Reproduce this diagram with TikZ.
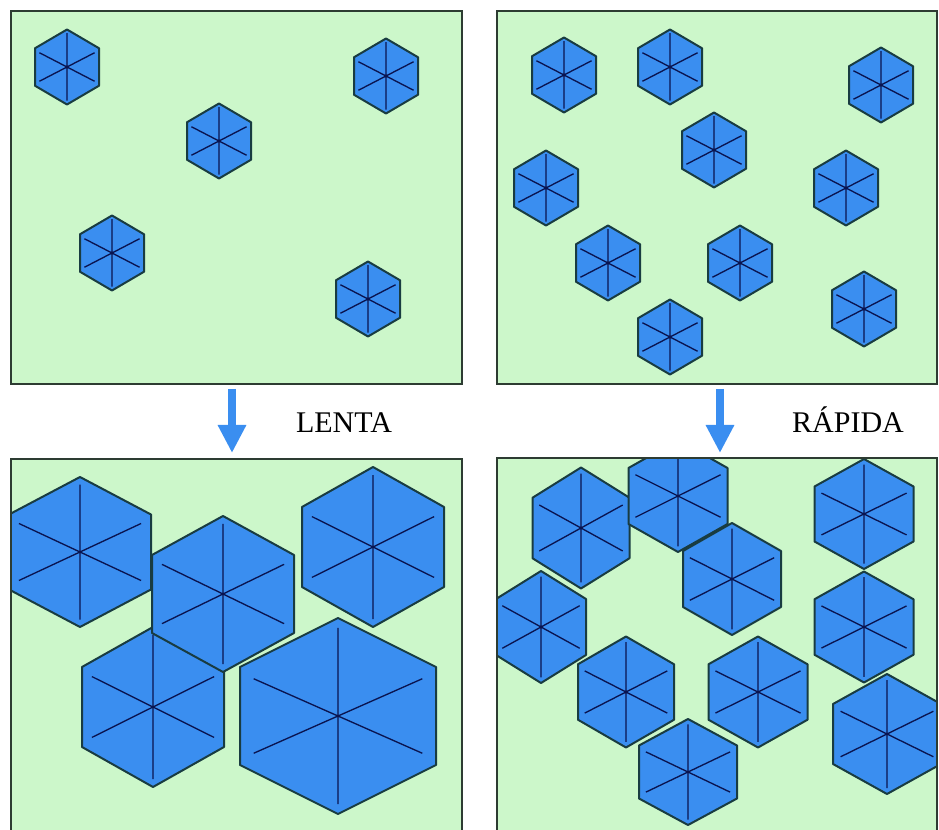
\documentclass[tikz,border=0pt]{standalone}
\usepackage{fontspec}
\setmainfont{Liberation Serif}
\usepackage{tikz}
\usetikzlibrary{arrows.meta}

\definecolor{fondo}{RGB}{204,247,202}
\definecolor{borde}{RGB}{45,60,50}
\definecolor{azul}{RGB}{58,142,240}
\definecolor{contorno}{RGB}{25,60,65}
\definecolor{ejes}{RGB}{10,20,80}

\tikzset{
  panel/.style={draw=borde,line width=1.6pt,fill=fondo},
  hexa/.style={fill=azul,draw=contorno,line width=1.5pt,line join=round},
  eje/.style={ejes,line width=1pt},
  flecha/.style={azul,line width=6pt,-{Triangle[length=21pt,width=20pt]}},
  rotulo/.style={font=\fontsize{22.5}{26}\selectfont,anchor=base}
}

% grain: center x, center y, half width, half height
\newcommand\grano[4]{%
  \begin{scope}[shift={(#1,#2)},xscale=#3,yscale=#4]
    \filldraw[hexa] (0,-1) -- (1,-0.5) -- (1,0.5) -- (0,1) -- (-1,0.5) -- (-1,-0.5) -- cycle;
    \draw[eje] (0,-0.9) -- (0,0.9) (-0.86,-0.38) -- (0.86,0.38) (-0.86,0.38) -- (0.86,-0.38);
  \end{scope}}

\begin{document}
\begin{tikzpicture}[x=0.75pt,y=-0.75pt]

\useasboundingbox (0,0) rectangle (939,830);

% upper left: few nuclei
\fill[fondo] (11,11) rectangle (462,384);
\begin{scope}
  \clip (11,11) rectangle (462,384);
  \grano{67}{67}{32}{37.5}
  \grano{219}{141}{32}{37.5}
  \grano{386}{76}{32}{37.5}
  \grano{112}{253}{32}{37.5}
  \grano{368}{299}{32}{37.5}
\end{scope}
\draw[panel,fill=none] (11,11) rectangle (462,384);

% upper right: many nuclei
\fill[fondo] (497,11) rectangle (937,384);
\begin{scope}
  \clip (497,11) rectangle (937,384);
  \grano{564}{75}{32}{37.5}
  \grano{670}{67}{32}{37.5}
  \grano{881}{85}{32}{37.5}
  \grano{714}{150}{32}{37.5}
  \grano{546}{188}{32}{37.5}
  \grano{846}{188}{32}{37.5}
  \grano{608}{263}{32}{37.5}
  \grano{740}{263}{32}{37.5}
  \grano{864}{309}{32}{37.5}
  \grano{670}{337}{32}{37.5}
\end{scope}
\draw[panel,fill=none] (497,11) rectangle (937,384);

% lower left: large grains
\fill[fondo] (11,459) rectangle (462,832);
\begin{scope}
  \clip (11,459) rectangle (462,832);
  \grano{80}{552}{71}{75}
  \grano{373}{547}{71}{80}
  \grano{153}{707}{71}{80}
  \grano{223}{594}{71}{78}
  \grano{338}{716}{98}{98}
\end{scope}
\draw[panel,fill=none] (11,459) rectangle (462,832);

% lower right: small grains
\fill[fondo] (497,458) rectangle (937,832);
\begin{scope}
  \clip (497,458) rectangle (937,832);
  \grano{581}{528}{48.5}{60.5}
  \grano{678}{496}{49.5}{56}
  \grano{732}{579}{49}{56}
  \grano{864}{514}{49.5}{55}
  \grano{541}{627}{45}{56}
  \grano{626}{692}{48}{55.5}
  \grano{758}{692}{49.5}{55.5}
  \grano{864}{627}{49.5}{55.5}
  \grano{887}{734}{54}{60}
  \grano{688}{772}{49}{53}
\end{scope}
\draw[panel,fill=none] (497,458) rectangle (937,832);

% arrows and labels
\coordinate (a1) at (232,389);
\coordinate (b1) at (232,453);
\coordinate (a2) at (720,389);
\coordinate (b2) at (720,453);
\draw[flecha] (a1) -- (b1);
\draw[flecha] (a2) -- (b2);

\node[rotulo] (lenta) at (344,433) {LENTA};
\node[rotulo] (rapida) at (848,433) {RÁPIDA};

\end{tikzpicture}
\end{document}
